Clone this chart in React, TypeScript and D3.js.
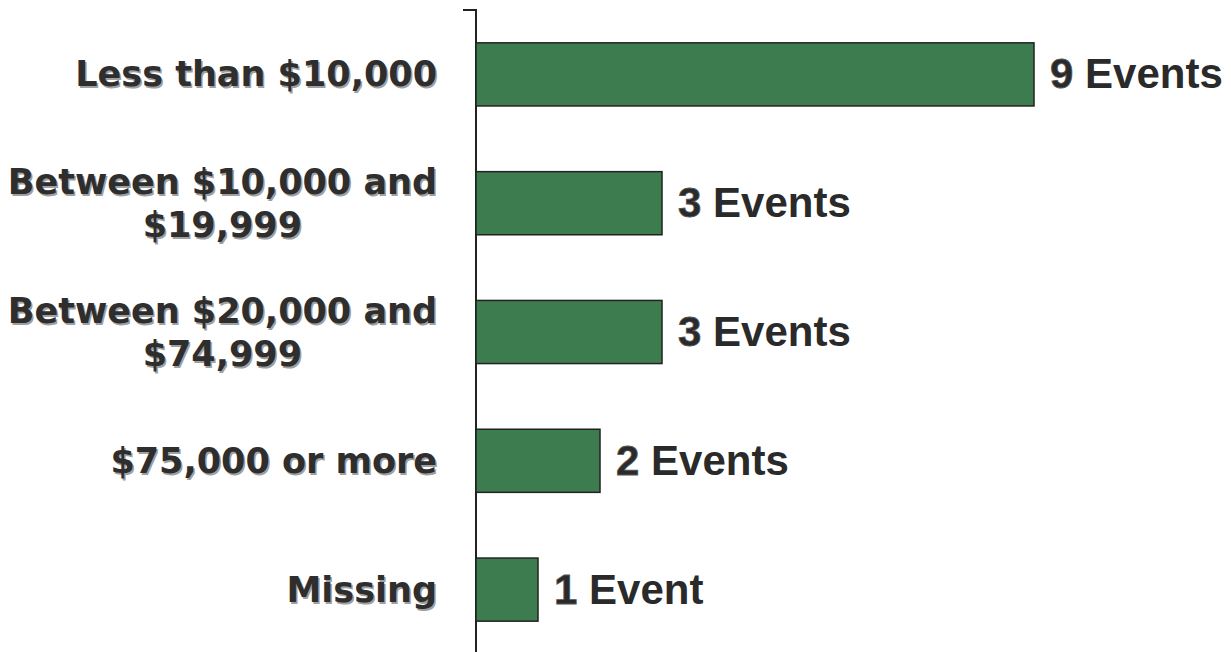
import React, { useEffect, useRef } from 'react';
import * as d3 from 'd3';

// categories (each line of a label is its own entry)
const categories = [
  ['Less than $10,000'],
  ['Between $10,000 and', '$19,999'],
  ['Between $20,000 and', '$74,999'],
  ['$75,000 or more'],
  ['Missing'],
];
const events = [9, 3, 3, 2, 1];
const valueLabels = ['Events', 'Events', 'Events', 'Events', 'Event'];

const W = 1231;
const H = 652;

const App = () => {
  const ref = useRef<SVGSVGElement | null>(null);

  useEffect(() => {
    const svg = d3.select(ref.current);
    svg.selectAll('*').remove();

    const axisX = 476;
    const x = d3.scaleLinear().domain([0, 9]).range([axisX, 1034]);
    const y = d3.scaleBand<number>()
      .domain(d3.range(categories.length))
      .range([10, 654])
      .paddingInner(0.51)
      .paddingOuter(0.255);

    const labelFont = '"DejaVu Sans", Verdana, sans-serif';
    const valueFont = '"Liberation Sans", Arial, sans-serif';

    // axis line and top tick
    svg.append('line')
      .attr('x1', axisX).attr('x2', axisX)
      .attr('y1', 10).attr('y2', H)
      .attr('stroke', '#222').attr('stroke-width', 2);
    svg.append('line')
      .attr('x1', axisX - 13).attr('x2', axisX + 1)
      .attr('y1', 10).attr('y2', 10)
      .attr('stroke', '#222').attr('stroke-width', 2);

    // bars
    svg.selectAll('.bar')
      .data(events)
      .enter().append('rect')
      .attr('class', 'bar')
      .attr('x', x(0))
      .attr('y', (d, i) => y(i)!)
      .attr('width', d => x(d) - x(0))
      .attr('height', y.bandwidth())
      .attr('fill', '#3d7c4f')
      .attr('stroke', '#222')
      .attr('stroke-width', 1.5);

    // category labels with shadow
    const labelRight = 437;
    const lineH = 43;
    const fs = 35;
    categories.forEach((lines, i) => {
      const cy = y(i)! + y.bandwidth() / 2;
      const firstBase = cy + 12 - ((lines.length - 1) * lineH) / 2;
      const g = svg.append('g');
      // measure first line for centering multi-line labels
      const probe = g.append('text')
        .attr('font-family', labelFont).attr('font-size', fs).attr('font-weight', 'bold')
        .text(lines[0]);
      const w0 = (probe.node() as SVGTextElement).getComputedTextLength();
      probe.remove();
      const cx = labelRight - w0 / 2;
      lines.forEach((line, j) => {
        const anchor = lines.length > 1 ? 'middle' : 'end';
        const tx = lines.length > 1 ? cx : labelRight;
        const ty = firstBase + j * lineH;
        g.append('text')
          .attr('x', tx + 1.5).attr('y', ty + 2)
          .attr('text-anchor', anchor)
          .attr('font-family', labelFont).attr('font-size', fs).attr('font-weight', 'bold')
          .attr('fill', '#a0a0a0')
          .text(line);
        g.append('text')
          .attr('x', tx).attr('y', ty)
          .attr('text-anchor', anchor)
          .attr('font-family', labelFont).attr('font-size', fs).attr('font-weight', 'bold')
          .attr('fill', '#2e2e2e')
          .text(line);
      });
    });

    // value labels
    events.forEach((d, i) => {
      const cy = y(i)! + y.bandwidth() / 2;
      const t = svg.append('text')
        .attr('x', x(d) + 16).attr('y', cy + 14)
        .attr('font-family', valueFont).attr('font-size', 42).attr('font-weight', 'bold')
        .attr('fill', '#2a2a2a');
      t.append('tspan')
        .attr('stroke', '#555').attr('stroke-width', 0.8)
        .text(String(d));
      t.append('tspan').text(' ' + valueLabels[i]);
    });
  }, []);

  return (
    <svg ref={ref} width={W} height={H} style={{ position: 'absolute', left: 0, top: 0, background: '#fff' }} />
  );
};

export default App;
